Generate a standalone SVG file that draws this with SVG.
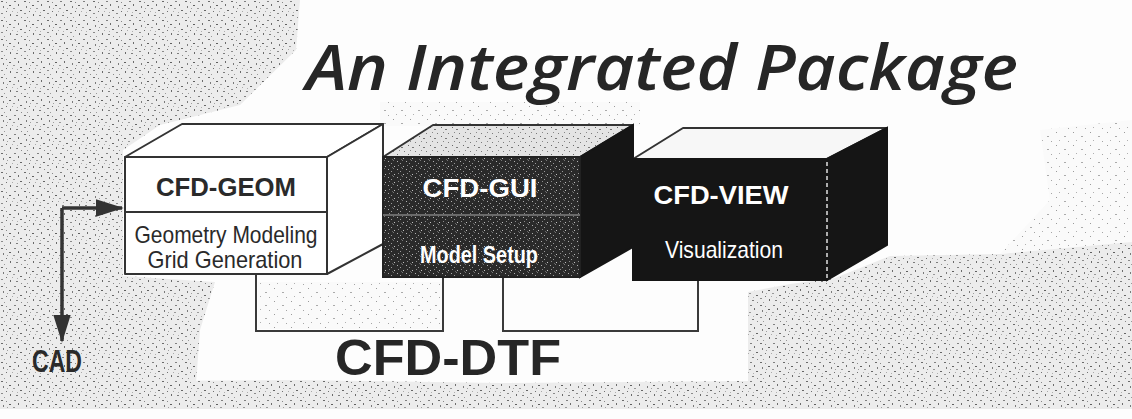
<svg xmlns="http://www.w3.org/2000/svg" width="1132" height="419" viewBox="0 0 1132 419">
  <defs>
    <pattern id="stip" width="23" height="19" patternUnits="userSpaceOnUse">
      <rect width="23" height="19" fill="#ececec"/>
      <rect x="1" y="1" width="2" height="1" fill="#6a6a6a"/>
      <rect x="6" y="2" width="1" height="1" fill="#888"/>
      <rect x="9" y="5" width="2" height="1" fill="#5f5f5f"/>
      <rect x="3" y="6" width="1" height="2" fill="#7a7a7a"/>
      <rect x="14" y="1" width="2" height="1" fill="#808080"/>
      <rect x="18" y="4" width="1" height="2" fill="#6c6c6c"/>
      <rect x="13" y="8" width="2" height="1" fill="#999"/>
      <rect x="20" y="10" width="2" height="1" fill="#666"/>
      <rect x="6" y="11" width="1" height="1" fill="#707070"/>
      <rect x="1" y="13" width="2" height="1" fill="#8a8a8a"/>
      <rect x="10" y="14" width="1" height="2" fill="#6a6a6a"/>
      <rect x="16" y="15" width="2" height="1" fill="#7c7c7c"/>
      <rect x="4" y="17" width="1" height="1" fill="#999"/>
      <rect x="21" y="17" width="1" height="1" fill="#888"/>
      <rect x="12" y="11" width="1" height="1" fill="#aaa"/>
      <rect x="7" y="8" width="1" height="1" fill="#a0a0a0"/>
      <rect x="17" y="12" width="1" height="1" fill="#b0b0b0"/>
    </pattern>
    <pattern id="stipLight" width="17" height="13" patternUnits="userSpaceOnUse">
      <rect width="17" height="13" fill="#fafafa"/>
      <rect x="2" y="2" width="1" height="1" fill="#9a9a9a"/>
      <rect x="10" y="6" width="2" height="1" fill="#aaa"/>
      <rect x="5" y="10" width="1" height="1" fill="#b0b0b0"/>
      <rect x="14" y="11" width="1" height="1" fill="#a5a5a5"/>
    </pattern>
    <pattern id="darkStip" width="9" height="8" patternUnits="userSpaceOnUse">
      <rect width="9" height="8" fill="#2a2a2a"/>
      <rect x="1" y="1" width="1" height="1" fill="#b0b0b0"/>
      <rect x="4" y="3" width="1" height="1" fill="#9a9a9a"/>
      <rect x="6" y="0" width="1" height="1" fill="#777"/>
      <rect x="2" y="5" width="1" height="1" fill="#8a8a8a"/>
      <rect x="7" y="6" width="1" height="1" fill="#c0c0c0"/>
      <rect x="5" y="7" width="1" height="1" fill="#666"/>
    </pattern>
    <pattern id="greyTop" width="11" height="9" patternUnits="userSpaceOnUse">
      <rect width="11" height="9" fill="#e4e4e4"/>
      <rect x="1" y="1" width="1" height="1" fill="#666"/>
      <rect x="5" y="3" width="2" height="1" fill="#777"/>
      <rect x="3" y="6" width="1" height="1" fill="#888"/>
      <rect x="8" y="7" width="1" height="1" fill="#7a7a7a"/>
    </pattern>
    <marker id="ah" viewBox="0 0 16 10" refX="15" refY="5" markerWidth="8" markerHeight="5" orient="auto" markerUnits="strokeWidth">
      <path d="M0,0 L16,5 L0,10 z" fill="#333"/>
    </marker>
    <style>
      .edge{stroke:#333;stroke-width:2;stroke-linejoin:round}
      .conn{fill:none;stroke:#3a3a3a;stroke-width:2}
      .sans{font-family:"Liberation Sans",Arial,sans-serif}
      .bold{font-weight:bold}
      .dark{fill:#2a2a2a}
      .light{fill:#ffffff}
    </style>
  </defs>

  <rect width="1132" height="419" fill="#fdfdfd"/>

  <g id="background">
    <path d="M0,0 L300,0 L296,50 L240,105 L160,125 L123,150 L123,276 L215,282 L200,330 L196,384 L0,384 Z" fill="url(#stip)"/>
    <path d="M0,382 L300,380 L500,383 L745,381 L1132,380 L1132,409 L0,409 Z" fill="url(#stip)"/>
    <path d="M748,292 L790,284 L835,278 L890,256 L1000,254 L1132,240 L1132,390 L748,390 Z" fill="url(#stip)"/>
    <path d="M380,102 L640,102 L640,126 L380,126 Z" fill="url(#stipLight)"/>
    <path d="M1040,130 L1132,120 L1132,242 L1000,254 L1050,200 Z" fill="url(#stipLight)"/>
    <path d="M258,282 L442,282 L442,329 L258,329 Z" fill="url(#stipLight)"/>
  </g>

  <g id="connectors">
    <path class="conn" d="M256,275 L256,331 L443,331 L443,277"/>
    <path class="conn" d="M503,277 L503,331 L698,331 L698,280"/>
    <path d="M62,208 L62,341" fill="none" stroke="#333" stroke-width="3.5" marker-end="url(#ah)"/>
    <path d="M62,208 L122,208" fill="none" stroke="#333" stroke-width="3.5" marker-end="url(#ah)"/>
  </g>

  <g id="cfd-geom">
    <polygon class="edge" points="125,157 182,124 383,124 327,157" fill="#ffffff"/>
    <polygon class="edge" points="327,157 383,124 383,244 327,274" fill="#ffffff"/>
    <rect class="edge" x="125" y="157" width="202" height="117" fill="#ffffff"/>
    <line class="edge" x1="125" y1="212" x2="327" y2="212"/>
    <text class="sans bold dark" x="226" y="196" font-size="25" text-anchor="middle" textLength="140" lengthAdjust="spacingAndGlyphs">CFD-GEOM</text>
    <text class="sans dark" x="226" y="243" font-size="24" text-anchor="middle" textLength="183" lengthAdjust="spacingAndGlyphs">Geometry Modeling</text>
    <text class="sans dark" x="225" y="268" font-size="24" text-anchor="middle" textLength="155" lengthAdjust="spacingAndGlyphs">Grid Generation</text>
  </g>

  <g id="cfd-gui">
    <polygon class="edge" points="383,157 433,125 633,125 580,157" fill="url(#greyTop)"/>
    <polygon points="580,157 633,125 633,247 580,277" fill="#151515" stroke="#151515" stroke-width="2"/>
    <rect x="383" y="157" width="197" height="120" fill="url(#darkStip)" stroke="#222" stroke-width="2"/>
    <line x1="383" y1="215" x2="580" y2="215" stroke="#6a6a6a" stroke-width="2"/>
    <text class="sans bold light" x="480" y="197" font-size="26" text-anchor="middle" textLength="115" lengthAdjust="spacingAndGlyphs">CFD-GUI</text>
    <text class="sans bold light" x="479" y="263" font-size="24" text-anchor="middle" textLength="118" lengthAdjust="spacingAndGlyphs">Model Setup</text>
  </g>

  <g id="cfd-view">
    <polygon class="edge" points="633,159 683,128 887,128 827,159" fill="#f7f7f7"/>
    <polygon points="827,159 887,128 887,245 827,280" fill="#151515" stroke="#151515" stroke-width="2"/>
    <rect x="633" y="159" width="194" height="121" fill="#151515" stroke="#151515" stroke-width="2"/>
    <line x1="827" y1="162" x2="827" y2="278" stroke="#e0e0e0" stroke-width="1.5" stroke-dasharray="4,3"/>
    <text class="sans bold light" x="721" y="204" font-size="25" text-anchor="middle" textLength="135" lengthAdjust="spacingAndGlyphs">CFD-VIEW</text>
    <text class="sans light" x="724" y="258" font-size="24" text-anchor="middle" textLength="118" lengthAdjust="spacingAndGlyphs">Visualization</text>
  </g>

  <g id="cfd-dtf">
    <text class="sans bold" x="335" y="375" font-size="50" fill="#262626" textLength="226" lengthAdjust="spacingAndGlyphs">CFD-DTF</text>
  </g>

  <g id="cad">
    <text class="sans bold" x="32" y="372" font-size="31" fill="#2a2a2a" textLength="50" lengthAdjust="spacingAndGlyphs">CAD</text>
  </g>

  <g id="title">
    <text x="306" y="90" font-family="'Open Sans','Noto Sans',sans-serif" font-style="italic" font-weight="600" font-size="64" fill="#262626" textLength="712" lengthAdjust="spacingAndGlyphs">An Integrated Package</text>
  </g>
</svg>
